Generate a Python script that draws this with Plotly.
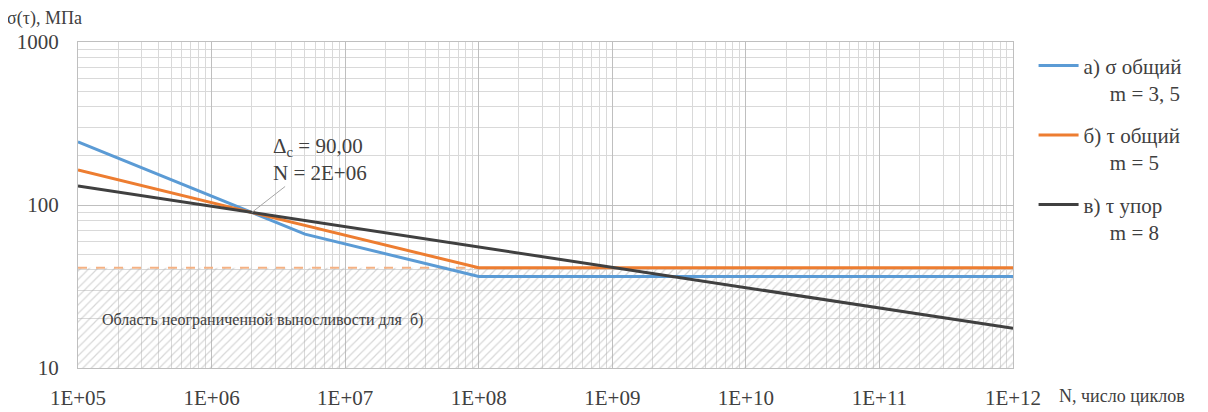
import math
import plotly.graph_objects as go

# ---- data ----
n_a = [1e5, 2e6, 5e6, 1e8, 1e12]
s_a = [244, 90, 66.3, 36.4, 36.4]
n_b = [1e5, 2e6, 1e8, 1e12]
s_b = [163.8, 90, 41.2, 41.2]
n_c = [1e5, 2e6, 1e12]
s_c = [130.9, 90, 17.5]
cafl_n = [1e5, 1e8]
cafl_s = [41.2, 41.2]
zone_n = [1e5, 1e12, 1e12, 1e5, 1e5]
zone_s = [10, 10, 41.2, 41.2, 10]
names = ["а) σ общий<br>\u00a0\u00a0\u00a0\u00a0\u00a0m = 3, 5",
         "б) τ общий<br>\u00a0\u00a0\u00a0\u00a0\u00a0m = 5",
         "в) τ упор<br>\u00a0\u00a0\u00a0\u00a0\u00a0m = 8"]
xtick_vals = [1e5, 1e6, 1e7, 1e8, 1e9, 1e10, 1e11, 1e12]
xtick_text = ["1E+05", "1E+06", "1E+07", "1E+08", "1E+09", "1E+10", "1E+11", "1E+12"]
ytick_vals = [10, 100, 1000]
ytick_text = ["10", "100", "1000"]
delta_c = 90
n_c_ref = 2e6

FONT = "Liberation Serif, Times New Roman, serif"
TXT = "#404040"
fig = go.Figure()

fig.add_trace(go.Scatter(x=zone_n, y=zone_s, mode="lines", fill="toself",
                         line=dict(width=0), fillcolor="rgba(0,0,0,0)",
                         fillpattern=dict(shape="/", fgcolor="#b0b0b0", bgcolor="rgba(0,0,0,0)",
                                          size=6, solidity=0.2),
                         showlegend=False, hoverinfo="skip"))
fig.add_trace(go.Scatter(x=cafl_n, y=cafl_s, mode="lines",
                         line=dict(color="#F4B183", width=2, dash="dash"),
                         showlegend=False))
fig.add_trace(go.Scatter(x=n_a, y=s_a, mode="lines", name=names[0], legendgroup="a",
                         line=dict(color="#5B9BD5", width=3)))
fig.add_trace(go.Scatter(x=n_b, y=s_b, mode="lines", name=names[1], legendgroup="b",
                         line=dict(color="#ED7D31", width=3)))
fig.add_trace(go.Scatter(x=n_c, y=s_c, mode="lines", name=names[2], legendgroup="c",
                         line=dict(color="#404040", width=3)))

grid = "#d9d9d9"
fig.update_xaxes(type="log", range=[5, 12], tickvals=xtick_vals, ticktext=xtick_text,
                 showgrid=True, gridcolor="#bfbfbf", gridwidth=1, automargin=False,
                 minor=dict(dtick="D1", showgrid=True, gridcolor=grid, gridwidth=1),
                 showline=True, linecolor="#bfbfbf", mirror=True, zeroline=False,
                 ticks="", tickfont=dict(family=FONT, size=21, color=TXT), ticklabelstandoff=11)
fig.update_yaxes(type="log", range=[1, 3], tickvals=ytick_vals, ticktext=ytick_text,
                 showgrid=True, gridcolor="#bfbfbf", gridwidth=1, automargin=False,
                 minor=dict(dtick="D1", showgrid=True, gridcolor=grid, gridwidth=1),
                 showline=True, linecolor="#bfbfbf", mirror=True, zeroline=False,
                 ticks="", tickfont=dict(family=FONT, size=21, color=TXT), ticklabelstandoff=14)

fig.add_annotation(x=math.log10(n_c_ref), y=math.log10(delta_c), xref="x", yref="y",
                   text=f"Δ<sub>c</sub> = {delta_c:.2f}".replace(".", ",") + "<br>N = 2E+06",
                   showarrow=True, arrowhead=0, arrowwidth=1, arrowcolor="#a6a6a6",
                   ax=68, ay=-53, align="left",
                   font=dict(family=FONT, size=21, color=TXT))
fig.add_annotation(x=0.024, y=math.log10(19.8), xref="paper", yref="y", xanchor="left",
                   text="Область неограниченной выносливости для  б)", showarrow=False,
                   font=dict(family=FONT, size=16, color=TXT))
fig.add_annotation(x=-0.078, y=1.0, xref="paper", yref="paper", xanchor="left", yanchor="bottom",
                   yshift=11, text="σ(τ), МПа", showarrow=False,
                   font=dict(family=FONT, size=18, color=TXT))
fig.add_annotation(x=1.047, y=0, xref="paper", yref="paper", xanchor="left", yanchor="top",
                   yshift=-16, text="N, число циклов", showarrow=False,
                   font=dict(family=FONT, size=18, color=TXT))

fig.update_layout(width=1208, height=412, margin=dict(l=70, r=203, t=34, b=52),
                  plot_bgcolor="white", paper_bgcolor="white",
                  font=dict(family=FONT, color=TXT),
                  legend=dict(x=1.022, y=0.99, xanchor="left", yanchor="top",
                              font=dict(family=FONT, size=21, color=TXT),
                              traceorder="grouped", tracegroupgap=12,
                              itemwidth=40, valign="top",
                              bgcolor="rgba(0,0,0,0)"))
fig.write_html("out.html")
